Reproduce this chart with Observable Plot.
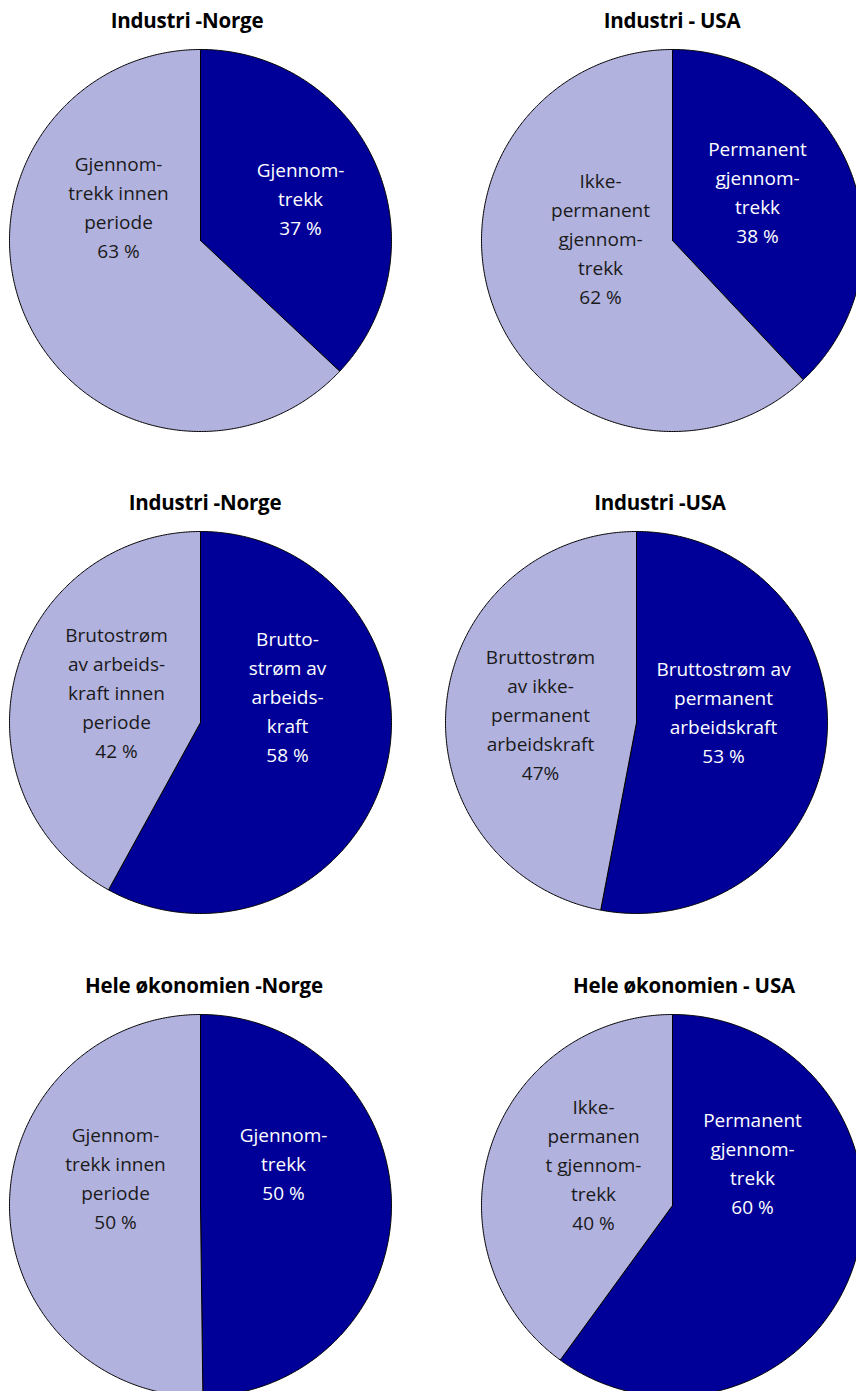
<!DOCTYPE html>
<html>
<head>
<meta charset="utf-8">
<script src="https://cdn.jsdelivr.net/npm/d3@7"></script>
<script src="https://cdn.jsdelivr.net/npm/@observablehq/plot@0.6"></script>
<style>
  html, body { margin: 0; padding: 0; background: #fff; overflow: hidden; }
  #page { position: relative; width: 856px; height: 1391px; overflow: hidden; font-family: "Open Sans", "Noto Sans", sans-serif; }
  .title { position: absolute; transform: translate(-50%, -50%); font-weight: 700; font-size: 20.5px; color: #000; white-space: nowrap; letter-spacing: -0.2px; }
  .pie { position: absolute; }
  .pie svg { max-width: none !important; display: block; }
</style>
</head>
<body>
<div id="page"></div>
<script>
// ---- data ----
const titles = ["Industri -Norge", "Industri - USA", "Industri -Norge", "Industri -USA", "Hele økonomien -Norge", "Hele økonomien - USA"];
const darkShare  = [37, 38, 58, 53, 49.8, 60];
const lightShare = [63, 62, 42, 47, 50.2, 40];
const darkLabels = [
  "Gjennom-\ntrekk\n37 %",
  "Permanent\ngjennom-\ntrekk\n38 %",
  "Brutto-\nstrøm av\narbeids-\nkraft\n58 %",
  "Bruttostrøm av\npermanent\narbeidskraft\n53 %",
  "Gjennom-\ntrekk\n50 %",
  "Permanent\ngjennom-\ntrekk\n60 %"
];
const lightLabels = [
  "Gjennom-\ntrekk innen\nperiode\n63 %",
  "Ikke-\npermanent\ngjennom-\ntrekk\n62 %",
  "Brutostrøm\nav arbeids-\nkraft innen\nperiode\n42 %",
  "Bruttostrøm\nav ikke-\npermanent\narbeidskraft\n47%",
  "Gjennom-\ntrekk innen\nperiode\n50 %",
  "Ikke-\npermanen\nt gjennom-\ntrekk\n40 %"
];

// ---- layout ----
const R = 191;
const centers = [[200, 240], [672, 240], [200, 722], [636, 722], [200, 1205], [672, 1205]];
const titlePos = [[187, 20], [672, 20], [205, 502], [660, 502], [204, 985], [684, 985]];
// label block centre offsets from pie centre, in pixels (right, down)
const darkLabelOffset  = [[100, -44], [85, -50], [87, -28], [87, -12], [83, -44], [80, -44]];
const lightLabelOffset = [[-82, -35], [-72, -4], [-84, -32], [-96, -10], [-85, -29], [-79, -43]];
const DARK = "#000099", LIGHT = "#b2b2df";

function slicePoints(k) {
  const parts = [{slice: "dark", v: darkShare[k]}, {slice: "light", v: lightShare[k]}];
  const total = d3.sum(parts, d => d.v);
  let acc = 0;
  const pts = [];
  for (const p of parts) {
    const a0 = acc / total * 2 * Math.PI, a1 = (acc + p.v) / total * 2 * Math.PI;
    acc += p.v;
    const n = Math.max(2, Math.ceil((a1 - a0) / (Math.PI / 360)));
    pts.push({slice: p.slice, x: 0, y: 0});
    for (let i = 0; i <= n; i++) {
      const a = a0 + (a1 - a0) * i / n;
      pts.push({slice: p.slice, x: Math.sin(a), y: Math.cos(a)});
    }
    pts.push({slice: p.slice, x: 0, y: 0});
  }
  return pts;
}

const page = document.getElementById("page");
for (let k = 0; k < 6; k++) {
  const [cx, cy] = centers[k];
  const labels = [
    {text: darkLabels[k], x: darkLabelOffset[k][0] / R, y: -darkLabelOffset[k][1] / R, color: "#ffffff"},
    {text: lightLabels[k], x: lightLabelOffset[k][0] / R, y: -lightLabelOffset[k][1] / R, color: "#1a1a1a"}
  ];
  const chart = Plot.plot({
    width: 2 * R + 2,
    height: 2 * R + 2,
    margin: 1,
    style: {fontFamily: "'Open Sans', 'Noto Sans', sans-serif", background: "transparent", overflow: "visible", maxWidth: "none"},
    x: {domain: [-1, 1], axis: null},
    y: {domain: [-1, 1], axis: null},
    color: {domain: ["dark", "light"], range: [DARK, LIGHT]},
    marks: [
      Plot.line(slicePoints(k), {x: "x", y: "y", z: "slice", fill: "slice", stroke: "#000", strokeWidth: 1, strokeLinejoin: "round"}),
      Plot.text(labels, {x: "x", y: "y", text: "text", fill: "color", fontSize: 19, lineHeight: 1.53, textAnchor: "middle", lineAnchor: "middle"})
    ]
  });
  const wrap = document.createElement("div");
  wrap.className = "pie";
  wrap.style.left = (cx - R - 1) + "px";
  wrap.style.top = (cy - R - 1) + "px";
  wrap.style.width = (2 * R + 2) + "px";
  wrap.appendChild(chart);
  page.appendChild(wrap);

  const t = document.createElement("div");
  t.className = "title";
  t.textContent = titles[k];
  t.style.left = titlePos[k][0] + "px";
  t.style.top = titlePos[k][1] + "px";
  page.appendChild(t);
}
</script>
</body>
</html>
